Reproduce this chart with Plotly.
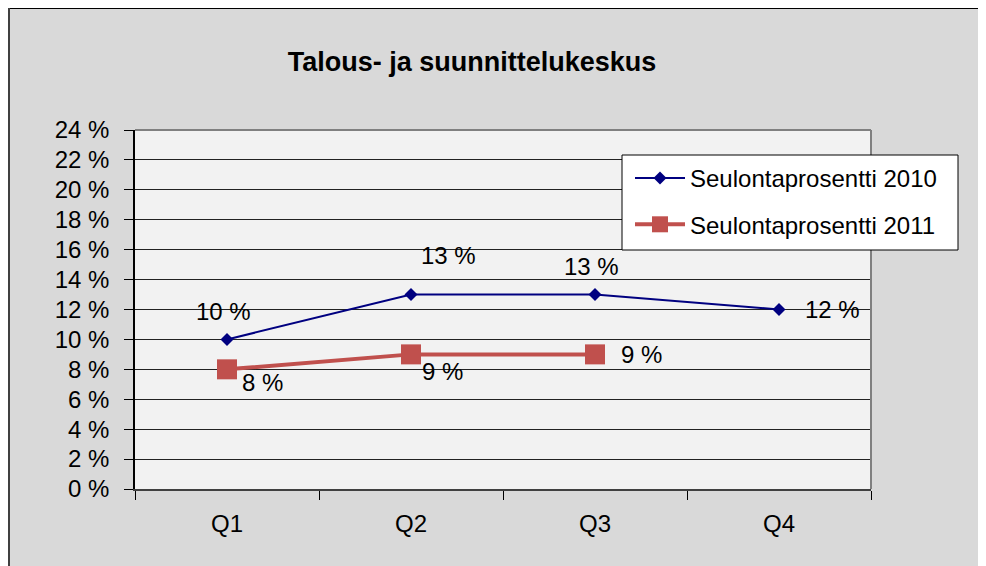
import plotly.graph_objs as go

# data
quarters = ['Q1', 'Q2', 'Q3', 'Q4']
seulonta_2010 = [10, 13, 13, 12]
seulonta_2011 = [8, 9, 9]
y_tick_vals = [0, 2, 4, 6, 8, 10, 12, 14, 16, 18, 20, 22, 24]
y_tick_text = ['{} %'.format(v) for v in y_tick_vals]

# label offsets in px (dx, dy), placed by hand like in the original chart
offsets_2010 = [(-4, -28), (37, -39), (-4, -28), (53, 0)]
offsets_2011 = [(35, 13), (31, 17), (46, 0)]

FONT = 'Liberation Sans, Arial, sans-serif'
OFF = 8  # page body margin around the figure
W, H = 986 - OFF, 566 - OFF
# plot area edges, in page pixels
L, R, T, B = 135 - OFF, 871 - OFF, 130 - OFF, 489 - OFF


def px_x(px):
    return (px - OFF - L) / (R - L)


def px_y(py):
    return (B - (py - OFF)) / (B - T)


fig = go.Figure()

fig.add_trace(go.Scatter(x=quarters, y=seulonta_2010, mode='lines+markers',
                         name='Seulontaprosentti 2010', legendgroup='a',
                         line=dict(color='#000080', width=2),
                         marker=dict(symbol='diamond', size=10, color='#000080')))
fig.add_trace(go.Scatter(x=quarters[:len(seulonta_2011)], y=seulonta_2011, mode='lines+markers',
                         name='Seulontaprosentti 2011', legendgroup='b',
                         line=dict(color='#c0504d', width=4),
                         marker=dict(symbol='square', size=20, color='#c0504d')))

annotations = []
for q, v, (dx, dy) in zip(quarters, seulonta_2010, offsets_2010):
    annotations.append(dict(x=q, y=v, xref='x', yref='y', text='{} %'.format(v), showarrow=False,
                            xshift=dx, yshift=-dy, font=dict(size=24, color='black', family=FONT)))
for q, v, (dx, dy) in zip(quarters, seulonta_2011, offsets_2011):
    annotations.append(dict(x=q, y=v, xref='x', yref='y', text='{} %'.format(v), showarrow=False,
                            xshift=dx, yshift=-dy, font=dict(size=24, color='black', family=FONT)))

shapes = [
    # plot area border, top and right
    dict(type='line', xref='paper', yref='paper', x0=0, x1=1, y0=1, y1=1,
         line=dict(color='#808080', width=2)),
    dict(type='line', xref='paper', yref='paper', x0=1, x1=1, y0=0, y1=1,
         line=dict(color='#808080', width=2)),
    # outer chart border, top and left
    dict(type='line', xref='paper', yref='paper', x0=px_x(8), x1=px_x(990), y0=px_y(8), y1=px_y(8),
         line=dict(color='black', width=2)),
    dict(type='line', xref='paper', yref='paper', x0=px_x(9), x1=px_x(9), y0=px_y(8), y1=px_y(570),
         line=dict(color='#404040', width=2)),
    # legend box
    dict(type='rect', xref='paper', yref='paper', x0=px_x(622), x1=px_x(958), y0=px_y(155), y1=px_y(250),
         fillcolor='white', line=dict(color='black', width=1), layer='above'),
]

fig.update_layout(
    width=W, height=H,
    margin=dict(l=L, r=W - R, t=T, b=H - B),
    paper_bgcolor='#d9d9d9',
    plot_bgcolor='#f2f2f2',
    font=dict(family=FONT, size=24, color='black'),
    title=dict(text='<b>Talous- ja suunnittelukeskus</b>', x=(472 - OFF) / W, xanchor='center',
               y=1 - (62 - OFF) / H, yanchor='middle', font=dict(size=27, color='black', family=FONT)),
    showlegend=True,
    legend=dict(x=px_x(630), y=px_y(156), xanchor='left', yanchor='top',
                bgcolor='rgba(0,0,0,0)', borderwidth=0,
                font=dict(size=24, color='black', family=FONT),
                tracegroupgap=12, traceorder='grouped', itemwidth=50),
    annotations=annotations,
    shapes=shapes,
    xaxis=dict(type='category', tickson='boundaries', ticks='outside', ticklen=9, tickcolor='black',
               showline=True, linecolor='#404040', linewidth=2, showgrid=False,
               ticklabelstandoff=12, tickfont=dict(size=24, color='black', family=FONT),
               range=[-0.5, 3.5]),
    yaxis=dict(range=[0, 24], tickvals=y_tick_vals, ticktext=y_tick_text,
               ticks='outside', ticklen=9, tickcolor='black',
               showline=True, linecolor='black', linewidth=1.5,
               showgrid=True, gridcolor='#222222', gridwidth=1, zeroline=False,
               ticklabelstandoff=10, tickfont=dict(size=24, color='black', family=FONT)),
)

# no scrollbars: the figure fills the window right up to its edges
fig.write_html('out.html', post_script=(
    "document.documentElement.style.overflow = 'hidden';"
    "document.body.style.overflow = 'hidden';"
    "document.body.style.marginBottom = '0px';"
))
